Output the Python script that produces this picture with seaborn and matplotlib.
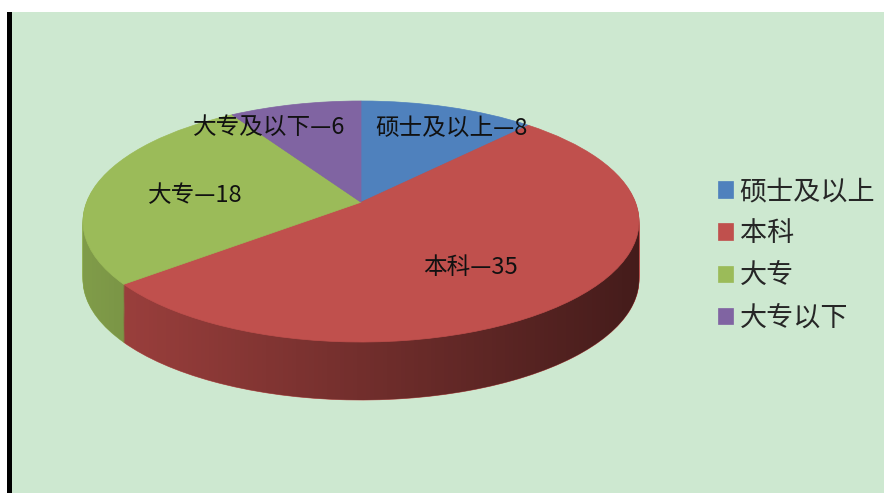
import numpy as np
import matplotlib
matplotlib.use('Agg')
import matplotlib.pyplot as plt
import seaborn as sns
from matplotlib.patches import Rectangle, PathPatch
from matplotlib.path import Path
from matplotlib.transforms import Transform, Affine2D

sns.set_theme(style='white')
plt.rcParams['font.family'] = ['Noto Sans CJK SC', 'DejaVu Sans']

# ---- data ----
categories = ['硕士及以上', '本科', '大专', '大专以下']
values = [8, 35, 18, 6]
label_names = ['硕士及以上', '本科', '大专', '大专及以下']

# ---- style ----
colors = ['#4f81bd', '#c0504d', '#9bbb59', '#8064a2']
side_colors = ['#46729f', '#b84b48', '#93b354', '#725a91']
label_r = [0.79, 0.63, 0.61, 0.80]
label_frac = [0.64, 0.54, 0.455, 0.14]
bg_color = '#cde8d0'

W, H = 884, 493
# projected ellipse of the top face (pixels) and perspective strength
ecx, ecy, erx, ery, depth, p = 361, 221.5, 278, 120.5, 58, 0.16
pcy = ecy - ery * p          # where the pie centre lands on screen
A = erx * np.sqrt(1 - p ** 2)
B = ery * (1 - p ** 2)


class Persp(Transform):
    input_dims = output_dims = 2
    is_separable = False
    has_inverse = False

    def transform_non_affine(self, values):
        values = np.asarray(values, float)
        u, v = values[:, 0], values[:, 1]
        w = 1 + p * v
        return np.column_stack([A * u / w, B * v / w])

    def transform_path_non_affine(self, path):
        return Path(self.transform_non_affine(path.vertices), path.codes)


fig = plt.figure(figsize=(W / 100, H / 100), dpi=100)
fig.patch.set_facecolor('white')
fig.patches.append(Rectangle((12 / W, 0), 1 - 12 / W, (H - 12) / H,
                             transform=fig.transFigure, facecolor=bg_color,
                             edgecolor='none', zorder=-2))
fig.patches.append(Rectangle((7 / W, 0), 4.5 / W, (H - 12) / H,
                             transform=fig.transFigure, facecolor='black',
                             edgecolor='none', zorder=-1))

top_px = ecy - ery
bot_px = ecy + ery + depth
ax = fig.add_axes([(ecx - erx) / W, (H - bot_px) / H, 2 * erx / W, (bot_px - top_px) / H])
ax.set_zorder(1)
ax.patch.set_alpha(0)
persp = Persp()


def place(ws, dy):
    for w in ws:
        w.set_edgecolor(w.get_facecolor())
        w.set_linewidth(0.5)
        w.set_transform(persp + Affine2D().translate(0, dy) + ax.transData)


# extruded sides: stacked pies
nlayer = 60
for i in range(nlayer, 0, -1):
    ws, _ = ax.pie(values, colors=side_colors, startangle=90, counterclock=False,
                   radius=1, wedgeprops=dict(linewidth=0, zorder=1))
    place(ws, -depth * i / nlayer)

# horizontal shading over the side band
yc = pcy - ecy  # ellipse centre in data coords (below pie centre)
t = np.linspace(np.pi, 2 * np.pi, 200)
verts = ([(-erx, yc), (-erx, yc - depth)] +
         list(zip(erx * np.cos(t), yc - depth + ery * np.sin(t))) +
         [(erx, yc), (-erx, yc)])
codes = [Path.MOVETO] + [Path.LINETO] * (len(verts) - 2) + [Path.CLOSEPOLY]
clip = PathPatch(Path(verts, codes), transform=ax.transData, facecolor='none', edgecolor='none')
ax.add_patch(clip)
xs = np.linspace(-1, 1, 256)
alpha = np.clip(0.38 + 0.25 * xs, 0, 1)
grad = np.zeros((1, 256, 4))
grad[..., 3] = alpha
im = ax.imshow(grad, extent=[-erx, erx, yc - depth - ery - 5, yc + 5], aspect='auto',
               zorder=2, interpolation='bilinear')
im.set_clip_path(clip)

# top face
wedges, _ = ax.pie(values, colors=colors, startangle=90, counterclock=False,
                   radius=1, wedgeprops=dict(linewidth=0, zorder=3))
place(wedges, 0)

for w, name, v, r, f in zip(wedges, label_names, values, label_r, label_frac):
    ang = np.deg2rad(w.theta2 - f * (w.theta2 - w.theta1))
    ax.text(r * np.cos(ang), r * np.sin(ang), f'{name}—{v}', ha='center', va='center',
            fontsize=17, color='#111111', zorder=5, transform=persp + ax.transData)

ax.set_aspect('auto')
ax.set_xlim(-erx, erx)
ax.set_ylim(pcy - bot_px, pcy - top_px)
ax.axis('off')

fig.legend(wedges, categories, loc='upper left', bbox_to_anchor=(718 / W, 1 - 178 / H),
           frameon=False, fontsize=19.5, handlelength=0.55, handleheight=0.55,
           handletextpad=0.25, labelspacing=0.56, borderaxespad=0, borderpad=0)

fig.savefig('out.png', dpi=100, facecolor=fig.get_facecolor())
